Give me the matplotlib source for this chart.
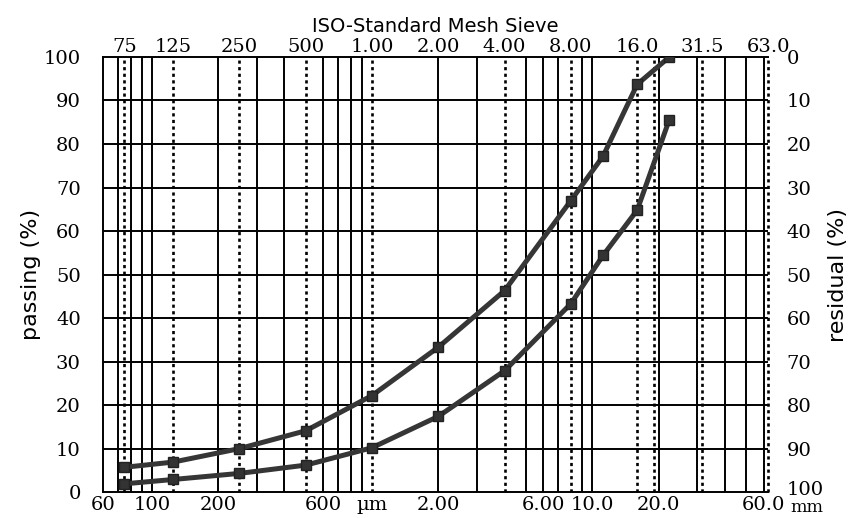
import matplotlib.pyplot as plt
from matplotlib.ticker import FixedLocator, NullLocator
from matplotlib.transforms import ScaledTranslation

# sieve sizes (um) and passing percentages of the two samples
sizes = [75, 125, 250, 500, 1000, 2000, 4000, 8000, 11200, 16000, 22400]
passing_a = [5.7, 6.9, 10.0, 14.1, 22.2, 33.3, 46.3, 67.0, 77.2, 93.7, 100.0]
passing_b = [1.9, 2.9, 4.3, 6.2, 10.2, 17.4, 27.9, 43.3, 54.4, 64.8, 85.6]

# axis labelling
bottom_ticks = [60, 100, 200, 600, 2000, 6000, 10000, 20000, 60000]
bottom_labels = ['60', '100', '200', '600', '2.00', '6.00', '10.0', '20.0', '60.0']
top_ticks = [75, 125, 250, 500, 1000, 2000, 4000, 8000, 16000, 31500, 63000]
top_labels = ['75', '125', '250', '500', '1.00', '2.00', '4.00', '8.00', '16.0', '31.5', '63.0']
solid_grid = [70, 80, 90, 100, 200, 300, 400, 600, 700, 800, 900,
              2000, 3000, 5000, 6000, 7000, 9000, 10000, 20000, 30000,
              40000, 50000, 60000]
dashed_grid = [75, 125, 250, 500, 1000, 4000, 8000, 16000, 19000, 31500, 63000]

serif = 'DejaVu Serif'
tsize = 14

fig = plt.figure(figsize=(8.55, 5.18), dpi=100)
ax = fig.add_axes([0.1205, 0.050, 0.778, 0.840])
ax.set_xscale('log')
ax.set_xlim(60, 63000)
ax.set_ylim(0, 100)

for x in solid_grid:
    ax.axvline(x, color='black', lw=1.4, zorder=1)
for x in dashed_grid:
    ax.axvline(x, color='black', lw=1.9, ls=(0, (1.2, 1.3)), zorder=1, clip_on=False)
for y in range(10, 100, 10):
    ax.axhline(y, color='black', lw=1.4, zorder=1)

for vals in (passing_a, passing_b):
    ax.plot(sizes, vals, color='#363636', lw=3.6, marker='s', ms=7,
            mfc='#333333', mec='#222222', zorder=3)

ax.spines['right'].set_visible(False)
for s in ('left', 'top', 'bottom'):
    ax.spines[s].set_linewidth(1.4)

ax.xaxis.set_major_locator(FixedLocator(bottom_ticks))
ax.xaxis.set_minor_locator(NullLocator())
ax.set_xticklabels(bottom_labels, fontfamily=serif, fontsize=tsize)
ax.set_yticks(range(0, 101, 10))
ax.set_yticklabels([str(v) for v in range(0, 101, 10)], fontfamily=serif, fontsize=tsize)
ax.tick_params(axis='x', length=0, pad=3)
ax.tick_params(axis='y', length=0, pad=16)
ax.set_ylabel('passing (%)', fontsize=16, labelpad=2)

ax.annotate('µm', xy=(600, 0), xycoords=('data', 'axes fraction'),
            xytext=(24, -3), textcoords='offset points', ha='left', va='top',
            fontfamily=serif, fontsize=tsize)
ax.annotate('mm', xy=(60000, 0), xycoords=('data', 'axes fraction'),
            xytext=(19, -5), textcoords='offset points', ha='left', va='top',
            fontfamily=serif, fontsize=12.5)

top = ax.secondary_xaxis('top')
top.xaxis.set_major_locator(FixedLocator(top_ticks))
top.xaxis.set_minor_locator(NullLocator())
top.set_xticklabels(top_labels, fontfamily=serif, fontsize=tsize)
top.tick_params(length=0, pad=1)
top.spines['top'].set_visible(False)
top.set_xlabel('ISO-Standard Mesh Sieve', fontsize=14, labelpad=4)

right = ax.twinx()
right.set_ylim(100, 0)
right.set_yticks(range(0, 101, 10))
right.set_yticklabels([str(v) for v in range(0, 101, 10)], fontfamily=serif, fontsize=tsize)
right.tick_params(length=0, pad=13)
for s in right.spines.values():
    s.set_visible(False)
right.set_ylabel('residual (%)', fontsize=16, labelpad=3)

# lift the bottom "100" on the right a little, it sits above "mm"
last = right.get_yticklabels()[-1]
last.set_transform(last.get_transform() + ScaledTranslation(0, 3 / 72, fig.dpi_scale_trans))

fig.savefig('out.png', dpi=100)
